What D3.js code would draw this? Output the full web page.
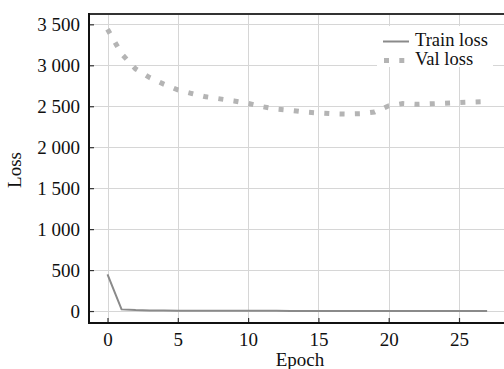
<!DOCTYPE html>
<html>
<head>
<meta charset="utf-8">
<script src="https://cdn.jsdelivr.net/npm/d3@7"></script>
<style>
  body { margin: 0; background: #fff; }
  svg { display: block; }
  text { font-family: "Liberation Serif", "DejaVu Serif", serif; fill: #111; }
</style>
</head>
<body>
<div id="chart"></div>
<script>
// data
const epochs = d3.range(0, 28);
const trainLoss = [448, 20, 12, 8, 6, 5, 4, 4, 3, 3, 3, 3, 3, 2, 2, 2, 2, 2, 2, 2, 2, 2, 2, 2, 2, 2, 2, 2];
const valLoss = [3440, 3140, 2955, 2850, 2770, 2700, 2655, 2615, 2590, 2565,
                 2535, 2495, 2465, 2450, 2430, 2418, 2408, 2405, 2410, 2430,
                 2505, 2533, 2523, 2530, 2537, 2545, 2552, 2558];
const xTicks = [0, 5, 10, 15, 20, 25];
const yTicks = [0, 500, 1000, 1500, 2000, 2500, 3000, 3500];
const seriesNames = ["Train loss", "Val loss"];

const W = 504, H = 369;
const plot = { left: 89, right: 504, top: 14, bottom: 323 };

const svg = d3.select("#chart").append("svg")
  .attr("width", W)
  .attr("height", H);

const x = d3.scaleLinear().domain([-1.316, 28.2]).range([plot.left, plot.right]);
const y = d3.scaleLinear().domain([-146, 3626]).range([plot.bottom, plot.top]);

const fmt = d3.formatLocale({ decimal: ".", thousands: " ", grouping: [3], currency: ["", ""] }).format(",");

// grid
const grid = svg.append("g").attr("stroke", "#d6d6d6").attr("stroke-width", 1);
grid.selectAll(".gx").data(xTicks).enter().append("line")
  .attr("x1", d => Math.round(x(d)) + 0.5).attr("x2", d => Math.round(x(d)) + 0.5)
  .attr("y1", plot.top).attr("y2", plot.bottom);
grid.selectAll(".gy").data(yTicks).enter().append("line")
  .attr("y1", d => Math.round(y(d)) + 0.5).attr("y2", d => Math.round(y(d)) + 0.5)
  .attr("x1", plot.left).attr("x2", plot.right);

// lines
const line = d3.line().x((d, i) => x(epochs[i])).y(d => y(d));

svg.append("path")
  .datum(valLoss)
  .attr("fill", "none")
  .attr("stroke", "#b4b4b4")
  .attr("stroke-width", 5)
  .attr("stroke-dasharray", "5,10.3")
  .attr("d", line);

svg.append("path")
  .datum(trainLoss)
  .attr("fill", "none")
  .attr("stroke", "#8a8a8a")
  .attr("stroke-width", 2)
  .attr("d", line);

// axes
const xAxis = d3.axisBottom(x).tickValues(xTicks).tickSizeInner(-5).tickSizeOuter(0).tickPadding(10);
const gx = svg.append("g").attr("transform", "translate(0," + plot.bottom + ")").call(xAxis);

const yAxis = d3.axisLeft(y).tickValues(yTicks).tickFormat(fmt).tickSizeInner(-5).tickSizeOuter(0).tickPadding(9);
const gy = svg.append("g").attr("transform", "translate(" + plot.left + ",0)").call(yAxis);

[gx, gy].forEach(g => {
  g.select(".domain").remove();
  g.selectAll(".tick line").attr("stroke", "#333").attr("stroke-width", 1.2);
  g.selectAll("text").attr("font-size", "19px").attr("font-family", "Liberation Serif").attr("fill", "#111");
});

// frame
svg.append("line").attr("x1", plot.left).attr("x2", plot.right).attr("y1", plot.top).attr("y2", plot.top)
  .attr("stroke", "#333").attr("stroke-width", 2);
svg.append("line").attr("x1", plot.left).attr("x2", plot.right).attr("y1", plot.bottom).attr("y2", plot.bottom)
  .attr("stroke", "#111").attr("stroke-width", 2);
svg.append("line").attr("x1", plot.left).attr("x2", plot.left).attr("y1", plot.top - 1).attr("y2", plot.bottom + 1)
  .attr("stroke", "#111").attr("stroke-width", 2);

// labels
svg.append("text")
  .attr("x", 300).attr("y", 366)
  .attr("text-anchor", "middle")
  .attr("font-size", "19px")
  .text("Epoch");

svg.append("text")
  .attr("transform", "translate(21,170) rotate(-90)")
  .attr("text-anchor", "middle")
  .attr("font-size", "19px")
  .text("Loss");

// legend
const legend = svg.append("g");
legend.append("rect")
  .attr("x", 377).attr("y", 26).attr("width", 116).attr("height", 41)
  .attr("fill", "#fff");

legend.append("line")
  .attr("x1", 383).attr("x2", 409).attr("y1", 41.5).attr("y2", 41.5)
  .attr("stroke", "#8a8a8a").attr("stroke-width", 2);
legend.append("line")
  .attr("x1", 384).attr("x2", 409).attr("y1", 60.5).attr("y2", 60.5)
  .attr("stroke", "#b4b4b4").attr("stroke-width", 5)
  .attr("stroke-dasharray", "5,10.3");

legend.selectAll(".lt").data(seriesNames).enter().append("text")
  .attr("x", 415)
  .attr("y", (d, i) => 45.5 + i * 19.5)
  .attr("font-size", "18.5px")
  .text(d => d);
</script>
</body>
</html>
